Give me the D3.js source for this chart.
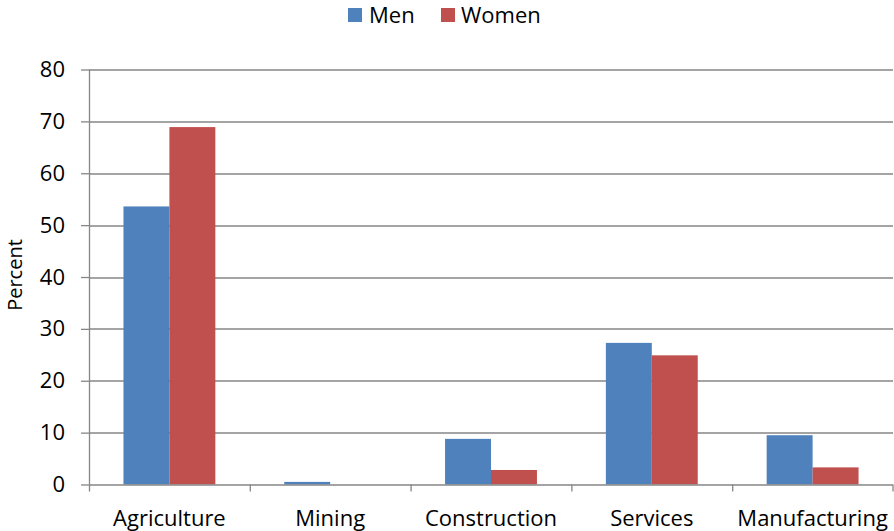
<!DOCTYPE html>
<html>
<head>
<meta charset="utf-8">
<script src="https://cdn.jsdelivr.net/npm/d3@7"></script>
<style>
  html, body { margin: 0; padding: 0; background: #fff; }
  svg { display: block; }
  text { font-family: "Open Sans", "Noto Sans", sans-serif; fill: #000; }
</style>
</head>
<body>
<div id="chart"></div>
<script>
// Employment share by sector, split by sex (percent)
const categories = ["Agriculture", "Mining", "Construction", "Services", "Manufacturing"];
const seriesNames = ["Men", "Women"];
const menValues = [53.6, 0.5, 8.8, 27.3, 9.5];
const womenValues = [68.9, 0, 2.8, 24.9, 3.3];
const yTicks = [0, 10, 20, 30, 40, 50, 60, 70, 80];
const colors = { Men: "#4F81BD", Women: "#C0504D" };

const W = 894, H = 531;
const margin = { left: 89, right: 1, top: 69.5, bottom: 46.5 };
const innerW = W - margin.left - margin.right;
const innerH = H - margin.top - margin.bottom;

const rows = categories.map((c, i) => ({ category: c, Men: menValues[i], Women: womenValues[i] }));

const svg = d3.select("#chart").append("svg")
  .attr("width", W).attr("height", H);

const g = svg.append("g").attr("transform", `translate(${margin.left},${margin.top})`);

const x0 = d3.scaleBand().domain(categories).range([0, innerW]).padding(0);
const x1 = d3.scaleBand().domain(seriesNames).range([0, x0.bandwidth()])
  .paddingInner(0).paddingOuter(0.75);
const y = d3.scaleLinear().domain([0, 80]).range([innerH, 0]);

const gridColor = "#868686";
const fontSize = "22px";

// horizontal gridlines
g.append("g").selectAll("line").data(yTicks.filter(t => t > 0)).join("line")
  .attr("x1", 0).attr("x2", innerW)
  .attr("y1", d => Math.round(y(d)) + 0.5).attr("y2", d => Math.round(y(d)) + 0.5)
  .attr("stroke", gridColor).attr("stroke-width", 1.3);

// bars
const groups = g.append("g").selectAll("g").data(rows).join("g")
  .attr("transform", d => `translate(${x0(d.category)},0)`);
groups.selectAll("rect")
  .data(d => seriesNames.map(s => ({ key: s, value: d[s] })))
  .join("rect")
  .attr("x", d => x1(d.key))
  .attr("width", x1.bandwidth())
  .attr("y", d => y(d.value))
  .attr("height", d => innerH - y(d.value))
  .attr("fill", d => colors[d.key]);

// y axis
const yAxis = g.append("g")
  .call(d3.axisLeft(y).tickValues(yTicks).tickSize(8).tickPadding(16));
yAxis.select(".domain").attr("stroke", gridColor).attr("stroke-width", 1.3)
  .attr("d", `M0.5,${innerH}V0`);
yAxis.selectAll(".tick line").attr("stroke", gridColor).attr("stroke-width", 1.3);
yAxis.selectAll(".tick text").style("font-size", fontSize).attr("fill", "#000");

// x axis: ticks at category boundaries
const xAxisG = g.append("g").attr("transform", `translate(0,${innerH})`);
xAxisG.append("line").attr("x1", 0).attr("x2", innerW).attr("y1", 0.5).attr("y2", 0.5)
  .attr("stroke", gridColor).attr("stroke-width", 1.3);
const boundaries = categories.map(c => x0(c)).concat([innerW - 0.5]);
xAxisG.selectAll("line.tk").data(boundaries).join("line").attr("class", "tk")
  .attr("x1", d => d + 0.5).attr("x2", d => d + 0.5).attr("y1", 0).attr("y2", 7)
  .attr("stroke", gridColor).attr("stroke-width", 1.3);
xAxisG.selectAll("text").data(categories).join("text")
  .attr("x", d => x0(d) + x0.bandwidth() / 2)
  .attr("y", 41)
  .attr("text-anchor", "middle")
  .style("font-size", fontSize)
  .text(d => d);

// y axis title
svg.append("text")
  .attr("transform", `translate(22,${margin.top + innerH / 2 - 2}) rotate(-90)`)
  .attr("text-anchor", "middle")
  .style("font-size", "20px")
  .text("Percent");

// legend
const legend = svg.append("g");
const legendItems = [{ key: "Men", x: 348, tx: 369 }, { key: "Women", x: 441, tx: 461 }];
legendItems.forEach(it => {
  legend.append("rect").attr("x", it.x).attr("y", 8).attr("width", 14).attr("height", 14)
    .attr("fill", colors[it.key]);
  legend.append("text").attr("x", it.tx).attr("y", 23).style("font-size", fontSize).text(it.key);
});
</script>
</body>
</html>
